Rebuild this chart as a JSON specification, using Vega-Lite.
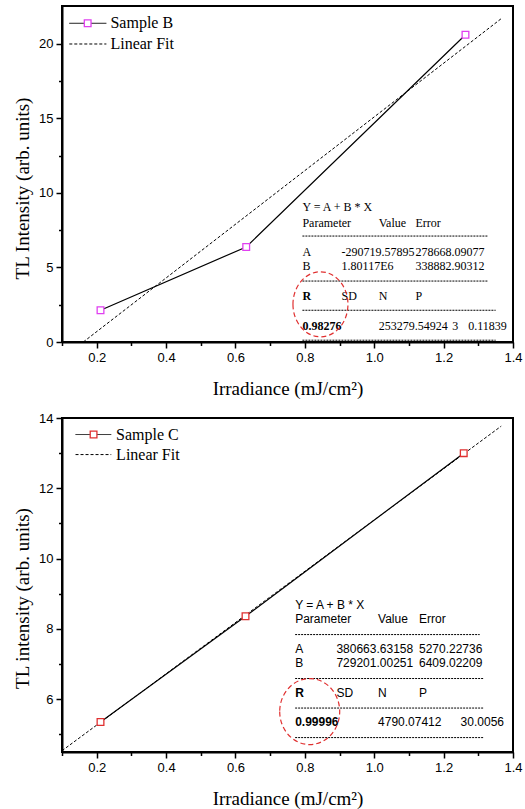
{
  "$schema": "https://vega.github.io/schema/vega-lite/v6.json",
  "padding": {"left": 12, "top": 5, "right": 0, "bottom": 0},
  "spacing": 12,
  "config": {
    "view": {"stroke": "black", "strokeWidth": 2},
    "axis": {
      "grid": false,
      "domainColor": "black", "domainWidth": 2,
      "tickColor": "black", "tickWidth": 1.5,
      "labelColor": "black", "labelFont": "Liberation Sans", "labelFontSize": 13, "labelPadding": 3,
      "labelOverlap": false, "labelFlush": false,
      "titleColor": "black", "titleFont": "Liberation Serif", "titleFontSize": 19, "titleFontWeight": "normal"
    }
  },
  "datasets": {
    "sampleB": [{"x": 0.211, "y": 2.13}, {"x": 0.631, "y": 6.38}, {"x": 1.263, "y": 20.62}],
    "fitB": [{"x": 0.1614, "y": 0}, {"x": 1.366, "y": 21.7}],
    "rulesB": [
      {"x": 0.793, "x2": 1.328, "y": 7.11, "s": "fine"},
      {"x": 0.793, "x2": 1.328, "y": 4.09, "s": "fine"},
      {"x": 0.793, "x2": 1.35, "y": 2.13, "s": "fine"},
      {"x": 0.793, "x2": 1.35, "y": 0.12, "s": "fine"},
      {"x": 0.121, "x2": 0.228, "y": 21.39, "s": "solid"},
      {"x": 0.121, "x2": 0.228, "y": 20.0, "s": "dash"}
    ],
    "sqB": [{"x": 0.174, "y": 21.39}],
    "legB": [{"x": 0.2396, "y": 21.39, "t": "Sample B"}, {"x": 0.2396, "y": 20.0, "t": "Linear Fit"}],
    "tableB": [
      {"x": 0.793, "y": 9.06, "t": "Y = A + B * X", "b": false},
      {"x": 0.793, "y": 8.01, "t": "Parameter", "b": false},
      {"x": 1.013, "y": 8.01, "t": "Value", "b": false},
      {"x": 1.119, "y": 8.01, "t": "Error", "b": false},
      {"x": 0.793, "y": 6.04, "t": "A", "b": false},
      {"x": 0.906, "y": 6.04, "t": "-290719.57895", "b": false},
      {"x": 1.119, "y": 6.04, "t": "278668.09077", "b": false},
      {"x": 0.793, "y": 5.08, "t": "B", "b": false},
      {"x": 0.906, "y": 5.08, "t": "1.80117E6", "b": false},
      {"x": 1.119, "y": 5.08, "t": "338882.90312", "b": false},
      {"x": 0.793, "y": 3.09, "t": "R", "b": true},
      {"x": 0.906, "y": 3.09, "t": "SD", "b": false},
      {"x": 1.013, "y": 3.09, "t": "N", "b": false},
      {"x": 1.119, "y": 3.09, "t": "P", "b": false},
      {"x": 0.793, "y": 1.07, "t": "0.98276", "b": true},
      {"x": 1.013, "y": 1.07, "t": "253279.54924", "b": false},
      {"x": 1.225, "y": 1.07, "t": "3", "b": false},
      {"x": 1.271, "y": 1.07, "t": "0.11839", "b": false}
    ],
    "circB": [{"x": 0.845, "y": 2.53}],
    "sampleC": [{"x": 0.211, "y": 5.355}, {"x": 0.629, "y": 8.36}, {"x": 1.258, "y": 13.0}],
    "fitC": [{"x": 0.1, "y": 4.536}, {"x": 1.366, "y": 13.768}],
    "rulesC": [
      {"x": 0.772, "x2": 1.304, "y": 7.84, "s": "fine"},
      {"x": 0.772, "x2": 1.315, "y": 6.59, "s": "fine"},
      {"x": 0.772, "x2": 1.315, "y": 5.75, "s": "fine"},
      {"x": 0.772, "x2": 1.315, "y": 4.91, "s": "fine"},
      {"x": 0.139, "x2": 0.242, "y": 13.53, "s": "solid"},
      {"x": 0.139, "x2": 0.242, "y": 12.96, "s": "dash"}
    ],
    "sqC": [{"x": 0.191, "y": 13.53}],
    "legC": [{"x": 0.256, "y": 13.53, "t": "Sample C"}, {"x": 0.256, "y": 12.96, "t": "Linear Fit"}],
    "tableC": [
      {"x": 0.772, "y": 8.69, "t": "Y = A + B * X", "b": false},
      {"x": 0.772, "y": 8.27, "t": "Parameter", "b": false},
      {"x": 1.011, "y": 8.27, "t": "Value", "b": false},
      {"x": 1.129, "y": 8.27, "t": "Error", "b": false},
      {"x": 0.772, "y": 7.44, "t": "A", "b": false},
      {"x": 0.891, "y": 7.44, "t": "380663.63158", "b": false},
      {"x": 1.129, "y": 7.44, "t": "5270.22736", "b": false},
      {"x": 0.772, "y": 7.03, "t": "B", "b": false},
      {"x": 0.891, "y": 7.03, "t": "729201.00251", "b": false},
      {"x": 1.129, "y": 7.03, "t": "6409.02209", "b": false},
      {"x": 0.772, "y": 6.18, "t": "R", "b": true},
      {"x": 0.891, "y": 6.18, "t": "SD", "b": false},
      {"x": 1.011, "y": 6.18, "t": "N", "b": false},
      {"x": 1.129, "y": 6.18, "t": "P", "b": false},
      {"x": 0.772, "y": 5.34, "t": "0.99996", "b": true},
      {"x": 1.011, "y": 5.34, "t": "4790.07412", "b": false},
      {"x": 1.249, "y": 5.34, "t": "30.0056", "b": false}
    ],
    "circC": [{"x": 0.814, "y": 5.65}]
  },
  "vconcat": [
    {
      "width": 451,
      "height": 336,
      "encoding": {
        "x": {
          "field": "x", "type": "quantitative",
          "scale": {"domain": [0.1, 1.4], "nice": false, "zero": false},
          "axis": {
            "title": "Irradiance (mJ/cm²)",
            "values": [0.1, 0.2, 0.3, 0.4, 0.5, 0.6, 0.7, 0.8, 0.9, 1.0, 1.1, 1.2, 1.3, 1.4],
            "labelExpr": "round(datum.value*10)%2==0 ? format(datum.value,'.1f') : ''",
            "tickSize": {"condition": {"test": "round(datum.value*10)%2==0", "value": 6}, "value": 3.5},
            "titlePadding": 15
          }
        },
        "y": {
          "field": "y", "type": "quantitative",
          "scale": {"domain": [0, 22.55], "nice": false, "zero": false},
          "axis": {
            "title": "TL Intensity (arb. units)",
            "values": [0, 2.5, 5, 7.5, 10, 12.5, 15, 17.5, 20],
            "labelExpr": "datum.value % 5 == 0 ? format(datum.value,'d') : ''",
            "tickSize": {"condition": {"test": "datum.value % 5 == 0", "value": 6}, "value": 3.5},
            "titlePadding": 6,
            "titleY": 182
          }
        }
      },
      "layer": [
        {"data": {"name": "fitB"}, "mark": {"type": "line", "color": "black", "strokeWidth": 1, "strokeDash": [3, 2]}},
        {"data": {"name": "sampleB"}, "mark": {"type": "line", "color": "black", "strokeWidth": 1.2}},
        {"data": {"name": "sampleB"}, "mark": {"type": "point", "shape": "square", "size": 45, "filled": true, "fill": "white", "stroke": "#e040f0", "strokeWidth": 1.3, "opacity": 1}},
        {
          "data": {"name": "rulesB"},
          "mark": {"type": "rule", "color": "black", "strokeWidth": 1},
          "encoding": {
            "x2": {"field": "x2"},
            "strokeDash": {"field": "s", "type": "nominal", "scale": {"domain": ["solid", "dash", "fine"], "range": [[1, 0], [3, 2], [2, 1]]}, "legend": null}
          }
        },
        {"data": {"name": "sqB"}, "mark": {"type": "point", "shape": "square", "size": 45, "filled": true, "fill": "white", "stroke": "#e040f0", "strokeWidth": 1.3, "opacity": 1}},
        {"data": {"name": "legB"}, "mark": {"type": "text", "align": "left", "baseline": "middle", "font": "Liberation Serif", "fontSize": 16, "color": "black"}, "encoding": {"text": {"field": "t"}}},
        {"data": {"name": "tableB"}, "transform": [{"filter": "!datum.b"}], "mark": {"type": "text", "align": "left", "baseline": "middle", "font": "Liberation Serif", "fontSize": 12, "color": "black"}, "encoding": {"text": {"field": "t"}}},
        {"data": {"name": "tableB"}, "transform": [{"filter": "datum.b"}], "mark": {"type": "text", "align": "left", "baseline": "middle", "font": "Liberation Serif", "fontSize": 12, "fontWeight": "bold", "color": "black"}, "encoding": {"text": {"field": "t"}}},
        {"data": {"name": "circB"}, "mark": {"type": "point", "shape": "M-0.846,0A0.846,1,0,1,0,0.846,0A0.846,1,0,1,0,-0.846,0Z", "size": 4225, "filled": false, "stroke": "#e03030", "strokeWidth": 1.2, "strokeDash": [5, 3], "opacity": 1}}
      ]
    },
    {
      "width": 451,
      "height": 334,
      "encoding": {
        "x": {
          "field": "x", "type": "quantitative",
          "scale": {"domain": [0.1, 1.4], "nice": false, "zero": false},
          "axis": {
            "title": "Irradiance (mJ/cm²)",
            "values": [0.1, 0.2, 0.3, 0.4, 0.5, 0.6, 0.7, 0.8, 0.9, 1.0, 1.1, 1.2, 1.3, 1.4],
            "labelExpr": "round(datum.value*10)%2==0 ? format(datum.value,'.1f') : ''",
            "tickSize": {"condition": {"test": "round(datum.value*10)%2==0", "value": 6}, "value": 3.5},
            "titlePadding": 15
          }
        },
        "y": {
          "field": "y", "type": "quantitative",
          "scale": {"domain": [4.5, 14], "nice": false, "zero": false},
          "axis": {
            "title": "TL intensity (arb. units)",
            "values": [5, 6, 7, 8, 9, 10, 11, 12, 13, 14],
            "labelExpr": "datum.value % 2 == 0 ? format(datum.value,'d') : ''",
            "tickSize": {"condition": {"test": "datum.value % 2 == 0", "value": 6}, "value": 3.5},
            "titlePadding": 6,
            "titleY": 180
          }
        }
      },
      "layer": [
        {"data": {"name": "fitC"}, "mark": {"type": "line", "color": "black", "strokeWidth": 1, "strokeDash": [3, 2]}},
        {"data": {"name": "sampleC"}, "mark": {"type": "line", "color": "black", "strokeWidth": 1.2}},
        {"data": {"name": "sampleC"}, "mark": {"type": "point", "shape": "square", "size": 45, "filled": true, "fill": "white", "stroke": "#e03030", "strokeWidth": 1.3, "opacity": 1}},
        {
          "data": {"name": "rulesC"},
          "mark": {"type": "rule", "color": "black", "strokeWidth": 1},
          "encoding": {
            "x2": {"field": "x2"},
            "strokeDash": {"field": "s", "type": "nominal", "scale": {"domain": ["solid", "dash", "fine"], "range": [[1, 0], [3, 2], [2, 1]]}, "legend": null}
          }
        },
        {"data": {"name": "sqC"}, "mark": {"type": "point", "shape": "square", "size": 45, "filled": true, "fill": "white", "stroke": "#e03030", "strokeWidth": 1.3, "opacity": 1}},
        {"data": {"name": "legC"}, "mark": {"type": "text", "align": "left", "baseline": "middle", "font": "Liberation Serif", "fontSize": 16, "color": "black"}, "encoding": {"text": {"field": "t"}}},
        {"data": {"name": "tableC"}, "transform": [{"filter": "!datum.b"}], "mark": {"type": "text", "align": "left", "baseline": "middle", "font": "Liberation Sans", "fontSize": 12, "color": "black"}, "encoding": {"text": {"field": "t"}}},
        {"data": {"name": "tableC"}, "transform": [{"filter": "datum.b"}], "mark": {"type": "text", "align": "left", "baseline": "middle", "font": "Liberation Sans", "fontSize": 12, "fontWeight": "bold", "color": "black"}, "encoding": {"text": {"field": "t"}}},
        {"data": {"name": "circC"}, "mark": {"type": "point", "shape": "M-0.909,0A0.909,1,0,1,0,0.909,0A0.909,1,0,1,0,-0.909,0Z", "size": 4356, "filled": false, "stroke": "#e03030", "strokeWidth": 1.2, "strokeDash": [5, 3], "opacity": 1}}
      ]
    }
  ]
}
